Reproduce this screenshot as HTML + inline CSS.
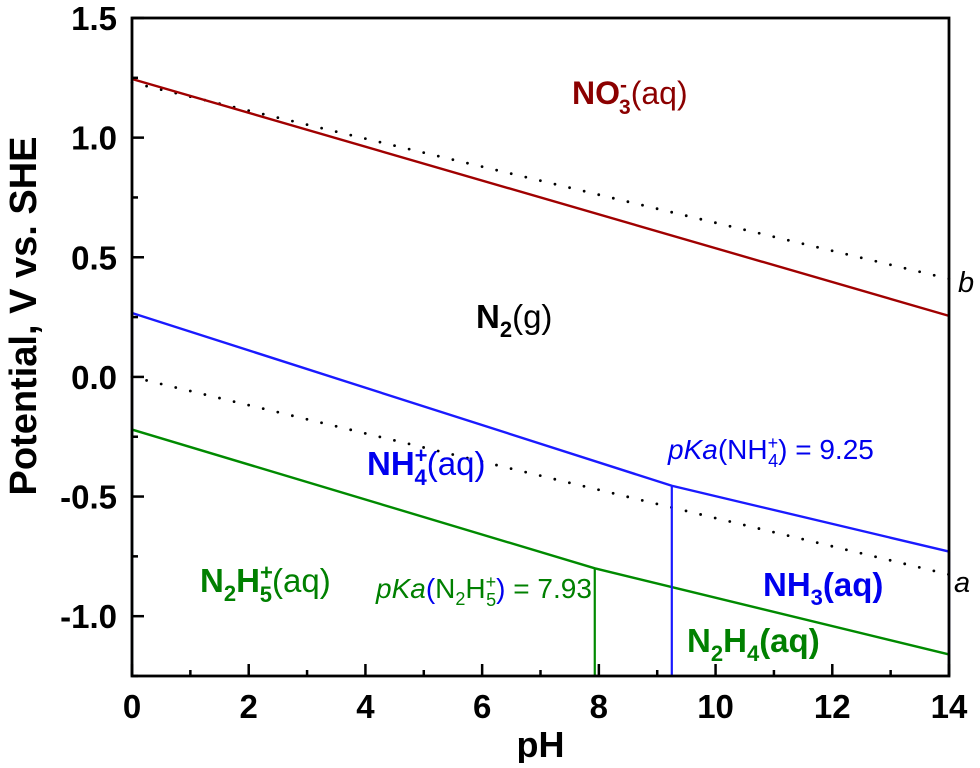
<!DOCTYPE html>
<html><head><meta charset="utf-8"><style>
html,body{margin:0;padding:0;background:#fff;}
svg text{font-family:"Liberation Sans",Arial,sans-serif;}
</style></head><body>
<svg id="chart" width="980" height="763" viewBox="0 0 980 763" xmlns="http://www.w3.org/2000/svg">
<g id="marks"></g>
<g id="axes"></g>
<g id="labels">
 <text x="572" y="104" font-size="32" fill="#8b0000"><tspan font-weight="bold">NO</tspan><tspan font-weight="bold" font-size="21" dy="-12">-</tspan><tspan font-weight="bold" font-size="21" dx="-8" dy="22">3</tspan><tspan dy="-10">(aq)</tspan></text>
 <text x="476" y="328" font-size="33" fill="#000"><tspan font-weight="bold">N</tspan><tspan font-weight="bold" font-size="22" dy="9">2</tspan><tspan dy="-9">(g)</tspan></text>
 <text x="367" y="475" font-size="33" fill="#0000ee"><tspan font-weight="bold">NH</tspan><tspan font-weight="bold" font-size="22" dy="-12">+</tspan><tspan font-weight="bold" font-size="22" dx="-13" dy="22">4</tspan><tspan dy="-10">(aq)</tspan></text>
 <text x="763" y="596" font-size="33" font-weight="bold" fill="#0000ee">NH<tspan font-size="22" dy="9">3</tspan><tspan dy="-9">(aq)</tspan></text>
 <text x="200" y="592" font-size="33" fill="#008000"><tspan font-weight="bold">N</tspan><tspan font-weight="bold" font-size="22" dy="9">2</tspan><tspan font-weight="bold" dy="-9">H</tspan><tspan font-weight="bold" font-size="22" dy="-12">+</tspan><tspan font-weight="bold" font-size="22" dx="-13" dy="22">5</tspan><tspan dy="-10">(aq)</tspan></text>
 <text x="687" y="652" font-size="33" font-weight="bold" fill="#008000">N<tspan font-size="22" dy="9">2</tspan><tspan dy="-9">H</tspan><tspan font-size="22" dy="9">4</tspan><tspan dy="-9">(aq)</tspan></text>
 <text x="668" y="459" font-size="28" fill="#0000ee"><tspan font-style="italic">pKa</tspan>(NH<tspan font-size="18" dy="-10">+</tspan><tspan font-size="18" dx="-10" dy="18">4</tspan><tspan dy="-8">) = 9.25</tspan></text>
 <text x="376" y="598" font-size="28" fill="#008000"><tspan font-style="italic">pKa</tspan><tspan fill="#0000ee">(</tspan>N<tspan font-size="18" dy="7">2</tspan><tspan dy="-7">H</tspan><tspan font-size="18" dy="-10">+</tspan><tspan font-size="18" dx="-10" dy="18">5</tspan><tspan dy="-8" fill="#0000ee">)</tspan> = 7.93</text>
 <text x="954" y="592" font-size="29" font-style="italic">a</text>
 <text x="958" y="292" font-size="29" font-style="italic">b</text>
</g>
</svg>
<script>
const xTicks=[0,2,4,6,8,10,12,14];
const yTicks=[1.5,1.0,0.5,0.0,-0.5,-1.0];
const yTickLabels=["1.5","1.0","0.5","0.0","-0.5","-1.0"];
const redPH=[0,14];const redE=[1.245,0.255];
const dotBPH=[0,14];const dotBE=[1.23,0.41];
const dotAPH=[0,14];const dotAE=[0,-0.826];
const bluePH=[0,9.25,14];const blueE=[0.267,-0.455,-0.73];
const greenPH=[0,7.93,14];const greenE=[-0.22,-0.80,-1.16];
const pkaNH4=9.25;const pkaN2H5=7.93;
const X0=132,X1=949,Y0=18,Y1=676,xmin=0,xmax=14,ymin=-1.25,ymax=1.5;
const sx=v=>X0+(v-xmin)/(xmax-xmin)*(X1-X0);
const sy=v=>Y0+(ymax-v)/(ymax-ymin)*(Y1-Y0);
const NS="http://www.w3.org/2000/svg";
const marks=document.getElementById('marks'),axes=document.getElementById('axes');
function mk(p,t,a){const e=document.createElementNS(NS,t);for(const k in a)e.setAttribute(k,a[k]);p.appendChild(e);return e;}
function poly(xs,ys,col,name,dash){const pts=xs.map((x,i)=>sx(x)+','+sy(ys[i])).join(' ');
 const e=mk(marks,'polyline',{points:pts,fill:'none',stroke:col,'stroke-width':dash?2.8:2.4});
 if(dash){e.setAttribute('stroke-dasharray','0 15');e.setAttribute('stroke-linecap','round');}
 
 }
function vline(x,e1,col,name){const l=mk(marks,'line',{x1:sx(x),x2:sx(x),y1:sy(e1),y2:Y1,stroke:col,'stroke-width':2.2});
 
 }
poly(dotBPH,dotBE,'#000','dotted-line-b',true);
poly(dotAPH,dotAE,'#000','dotted-line-a',true);
poly(redPH,redE,'#a00000','no3-n2-boundary');
poly(bluePH,blueE,'#1a1aff','n2-nh4-boundary');
poly(greenPH,greenE,'#008a00','n2h5-boundary');
vline(pkaNH4,blueE[1],'#1a1aff','pka-nh4-line');
vline(bluePH[2],blueE[2],'#1a1aff','blue-right-edge');
vline(0,blueE[0],'#1a1aff','blue-left-edge');
vline(pkaN2H5,greenE[1],'#008a00','pka-n2h5-line');
vline(greenPH[2],greenE[2],'#008a00','green-right-edge');
vline(0,greenE[0],'#008a00','green-left-edge');
const fr=mk(axes,'rect',{x:X0,y:Y0,width:X1-X0,height:Y1-Y0,fill:'none',stroke:'#000','stroke-width':2.8});


for(let v=0;v<=14;v++){const maj=v%2==0;mk(axes,'line',{x1:sx(v),x2:sx(v),y1:Y1,y2:Y1-(maj?12:6),stroke:'#000','stroke-width':2.5});}
xTicks.forEach(v=>{const t=mk(axes,'text',{x:sx(v),y:Y1+42,'font-size':33,'font-weight':'bold','text-anchor':'middle'});t.textContent=v;
 
 });
for(let v=-1.25;v<=1.5001;v+=0.25){const maj=Math.abs(Math.round(v*4))%2==0;mk(axes,'line',{x1:X0,x2:X0+(maj?12:6),y1:sy(v),y2:sy(v),stroke:'#000','stroke-width':2.5});}
yTicks.forEach((v,i)=>{const t=mk(axes,'text',{x:X0-15,y:sy(v)+12,'font-size':33,'font-weight':'bold','text-anchor':'end'});t.textContent=yTickLabels[i];
 
 });
const xt=mk(axes,'text',{x:(X0+X1)/2,y:757,'font-size':36,'font-weight':'bold','text-anchor':'middle'});xt.textContent='pH';


const yt=mk(axes,'text',{x:0,y:0,'font-size':38,'font-weight':'bold','text-anchor':'middle',transform:'translate(36,316) rotate(-90)'});yt.textContent='Potential, V vs. SHE';


</script>
</body></html>
